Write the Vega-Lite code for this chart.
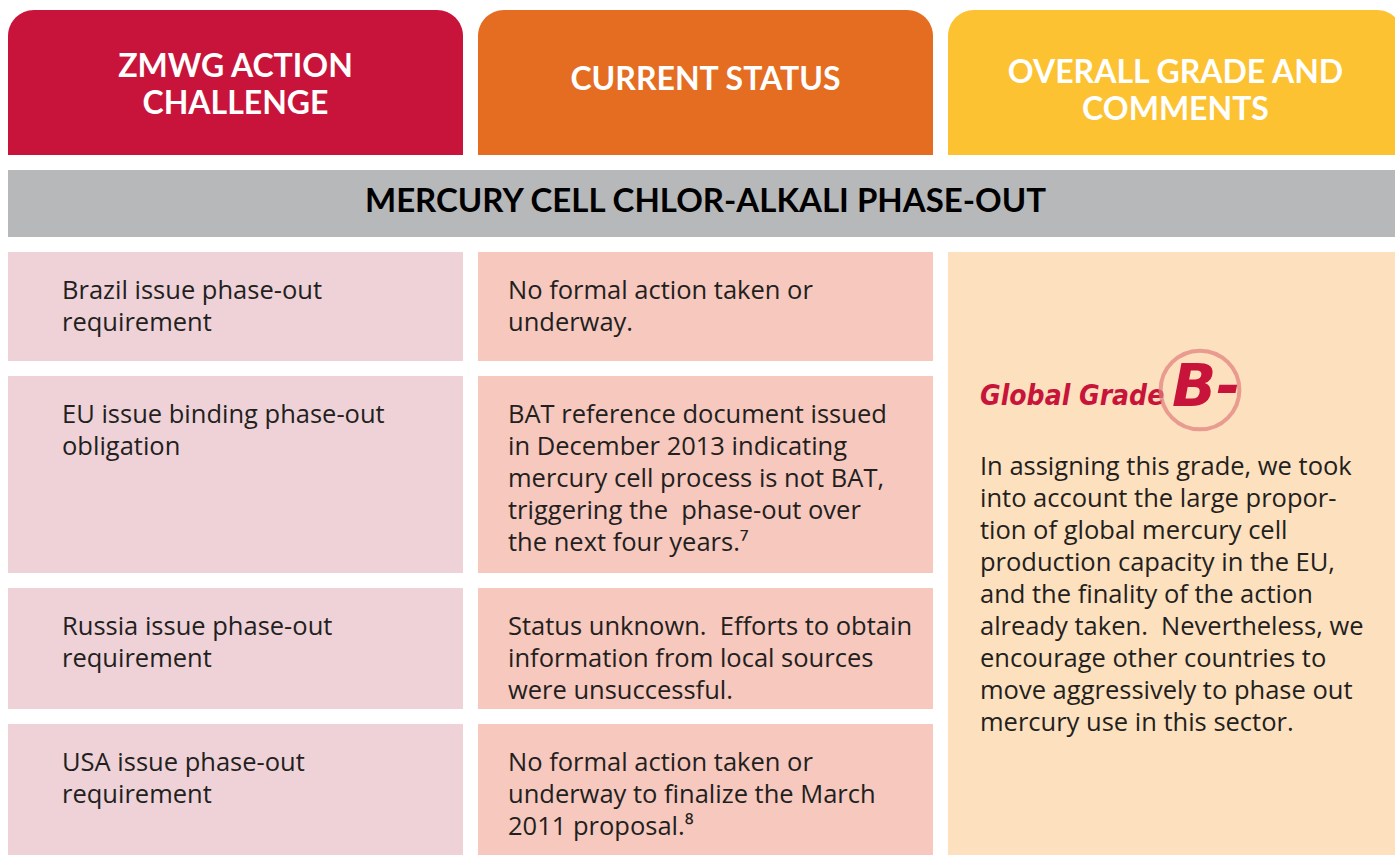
{
  "$schema": "https://vega.github.io/schema/vega-lite/v6.json",
  "width": 1395,
  "height": 855,
  "padding": 0,
  "autosize": "none",
  "background": "#ffffff",
  "config": {
    "view": {"stroke": null},
    "axis": {"disable": true},
    "legend": {"disable": true},
    "text": {"font": "Lato"}
  },
  "datasets": {
    "cols": [
      {"col": "A", "head": "ZMWG ACTION\nCHALLENGE"},
      {"col": "B", "head": "CURRENT STATUS"},
      {"col": "C", "head": "OVERALL GRADE AND\nCOMMENTS"}
    ],
    "cells": [
      {"col": "A", "top": 252, "bottom": 361, "text": "Brazil issue phase-out\nrequirement"},
      {"col": "A", "top": 376, "bottom": 573, "text": "EU issue binding phase-out\nobligation"},
      {"col": "A", "top": 588, "bottom": 709, "text": "Russia issue phase-out\nrequirement"},
      {"col": "A", "top": 724, "bottom": 860, "text": "USA issue phase-out\nrequirement"},
      {"col": "B", "top": 252, "bottom": 361, "text": "No formal action taken or\nunderway."},
      {"col": "B", "top": 376, "bottom": 573, "text": "BAT reference document issued\nin December 2013 indicating\nmercury cell process is not BAT,\ntriggering the\u00a0 phase-out over\nthe next four years.⁷"},
      {"col": "B", "top": 588, "bottom": 709, "text": "Status unknown.\u00a0 Efforts to obtain\ninformation from local sources\nwere unsuccessful."},
      {"col": "B", "top": 724, "bottom": 860, "text": "No formal action taken or\nunderway to finalize the March\n2011 proposal.⁸"},
      {"col": "C", "top": 252, "bottom": 860, "text": ""}
    ],
    "grade": [
      {"col": "C", "y": 397, "label": "Global Grade", "grade": "B-"}
    ],
    "comment": [
      {"col": "C", "top": 428, "text": "In assigning this grade, we took\ninto account the large propor-\ntion of global mercury cell\nproduction capacity in the EU,\nand the finality of the action\nalready taken.\u00a0 Nevertheless, we\nencourage other countries to\nmove aggressively to phase out\nmercury use in this sector."}
    ],
    "band": [
      {"col": "A", "end": "C", "title": "MERCURY CELL CHLOR-ALKALI PHASE-OUT"}
    ]
  },
  "layer": [
    {
      "data": {"name": "cols"},
      "mark": {"type": "rect", "cornerRadiusTopLeft": 26, "cornerRadiusTopRight": 26},
      "encoding": {
        "x": {"field": "col", "type": "nominal", "scale": {"domain": ["A", "B", "C"], "range": [8, 1403], "paddingInner": 0.0319, "paddingOuter": 0}},
        "y": {"datum": 10, "type": "quantitative", "scale": {"domain": [0, 855], "range": [0, 855], "nice": false, "zero": false}},
        "y2": {"datum": 155},
        "color": {"field": "col", "type": "nominal", "scale": {"domain": ["A", "B", "C"], "range": ["#C8143A", "#E46D22", "#FCC232"]}}
      }
    },
    {
      "data": {"name": "cols"},
      "transform": [{"filter": "datum.col === 'A'"}],
      "mark": {"type": "text", "color": "#ffffff", "fontWeight": "bold", "fontSize": 32, "baseline": "middle", "align": "center", "lineBreak": "\n", "lineHeight": 37},
      "encoding": {
        "x": {"field": "col", "type": "nominal"},
        "y": {"datum": 67, "type": "quantitative"},
        "text": {"field": "head"}
      }
    },
    {
      "data": {"name": "cols"},
      "transform": [{"filter": "datum.col === 'B'"}],
      "mark": {"type": "text", "color": "#ffffff", "fontWeight": "bold", "fontSize": 32, "baseline": "middle", "align": "center"},
      "encoding": {
        "x": {"field": "col", "type": "nominal"},
        "y": {"datum": 80, "type": "quantitative"},
        "text": {"field": "head"}
      }
    },
    {
      "data": {"name": "cols"},
      "transform": [{"filter": "datum.col === 'C'"}],
      "mark": {"type": "text", "color": "#ffffff", "fontWeight": "bold", "fontSize": 32, "baseline": "middle", "align": "center", "lineBreak": "\n", "lineHeight": 37},
      "encoding": {
        "x": {"field": "col", "type": "nominal"},
        "y": {"datum": 73, "type": "quantitative"},
        "text": {"field": "head"}
      }
    },
    {
      "data": {"name": "band"},
      "mark": {"type": "rect", "color": "#B7B8BA", "x2Offset": 600},
      "encoding": {
        "x": {"field": "col", "type": "nominal", "bandPosition": 0},
        "x2": {"field": "end"},
        "y": {"datum": 170, "type": "quantitative"},
        "y2": {"datum": 237}
      }
    },
    {
      "data": {"name": "band"},
      "mark": {"type": "text", "color": "#000000", "fontWeight": "bold", "fontSize": 33, "baseline": "middle", "align": "center"},
      "encoding": {
        "x": {"datum": "B", "type": "nominal"},
        "y": {"datum": 202, "type": "quantitative"},
        "text": {"field": "title"}
      }
    },
    {
      "data": {"name": "cells"},
      "mark": {"type": "rect"},
      "encoding": {
        "x": {"field": "col", "type": "nominal"},
        "y": {"field": "top", "type": "quantitative"},
        "y2": {"field": "bottom"},
        "color": {"field": "col", "type": "nominal", "scale": {"domain": ["A", "B", "C"], "range": ["#EED2D8", "#F6C8BE", "#FDE0BE"]}}
      }
    },
    {
      "data": {"name": "cells"},
      "transform": [{"filter": "datum.col === 'A'"}],
      "mark": {"type": "text", "color": "#231F20", "font": "Open Sans", "fontSize": 25.5, "baseline": "top", "align": "left", "lineBreak": "\n", "lineHeight": 32, "dx": 54, "dy": 27},
      "encoding": {
        "x": {"field": "col", "type": "nominal", "bandPosition": 0},
        "y": {"field": "top", "type": "quantitative"},
        "text": {"field": "text"}
      }
    },
    {
      "data": {"name": "cells"},
      "transform": [{"filter": "datum.col === 'B'"}],
      "mark": {"type": "text", "color": "#231F20", "font": "Open Sans", "fontSize": 25.5, "baseline": "top", "align": "left", "lineBreak": "\n", "lineHeight": 32, "dx": 30, "dy": 27},
      "encoding": {
        "x": {"field": "col", "type": "nominal", "bandPosition": 0},
        "y": {"field": "top", "type": "quantitative"},
        "text": {"field": "text"}
      }
    },
    {
      "data": {"name": "comment"},
      "mark": {"type": "text", "color": "#231F20", "font": "Open Sans", "fontSize": 25.5, "baseline": "top", "align": "left", "lineBreak": "\n", "lineHeight": 32, "dx": 32, "dy": 27},
      "encoding": {
        "x": {"field": "col", "type": "nominal", "bandPosition": 0},
        "y": {"field": "top", "type": "quantitative"},
        "text": {"field": "text"}
      }
    },
    {
      "data": {"name": "grade"},
      "mark": {"type": "text", "color": "#C8143A", "font": "DejaVu Sans Condensed", "fontStyle": "italic", "fontWeight": "bold", "fontSize": 28, "baseline": "middle", "align": "left", "dx": 32},
      "encoding": {
        "x": {"field": "col", "type": "nominal", "bandPosition": 0},
        "y": {"field": "y", "type": "quantitative"},
        "text": {"field": "label"}
      }
    },
    {
      "data": {"name": "grade"},
      "mark": {"type": "point", "shape": "circle", "filled": false, "size": 6200, "stroke": "#E27E7C", "strokeWidth": 4, "xOffset": 252, "yOffset": -7},
      "encoding": {
        "x": {"field": "col", "type": "nominal", "bandPosition": 0},
        "y": {"field": "y", "type": "quantitative"}
      }
    },
    {
      "data": {"name": "grade"},
      "mark": {"type": "text", "color": "#C8143A", "font": "DejaVu Sans", "fontStyle": "italic", "fontWeight": "bold", "fontSize": 58, "baseline": "middle", "align": "left", "dx": 224, "dy": -8},
      "encoding": {
        "x": {"field": "col", "type": "nominal", "bandPosition": 0},
        "y": {"field": "y", "type": "quantitative"},
        "text": {"field": "grade"}
      }
    }
  ],
  "resolve": {"scale": {"color": "independent"}}
}
